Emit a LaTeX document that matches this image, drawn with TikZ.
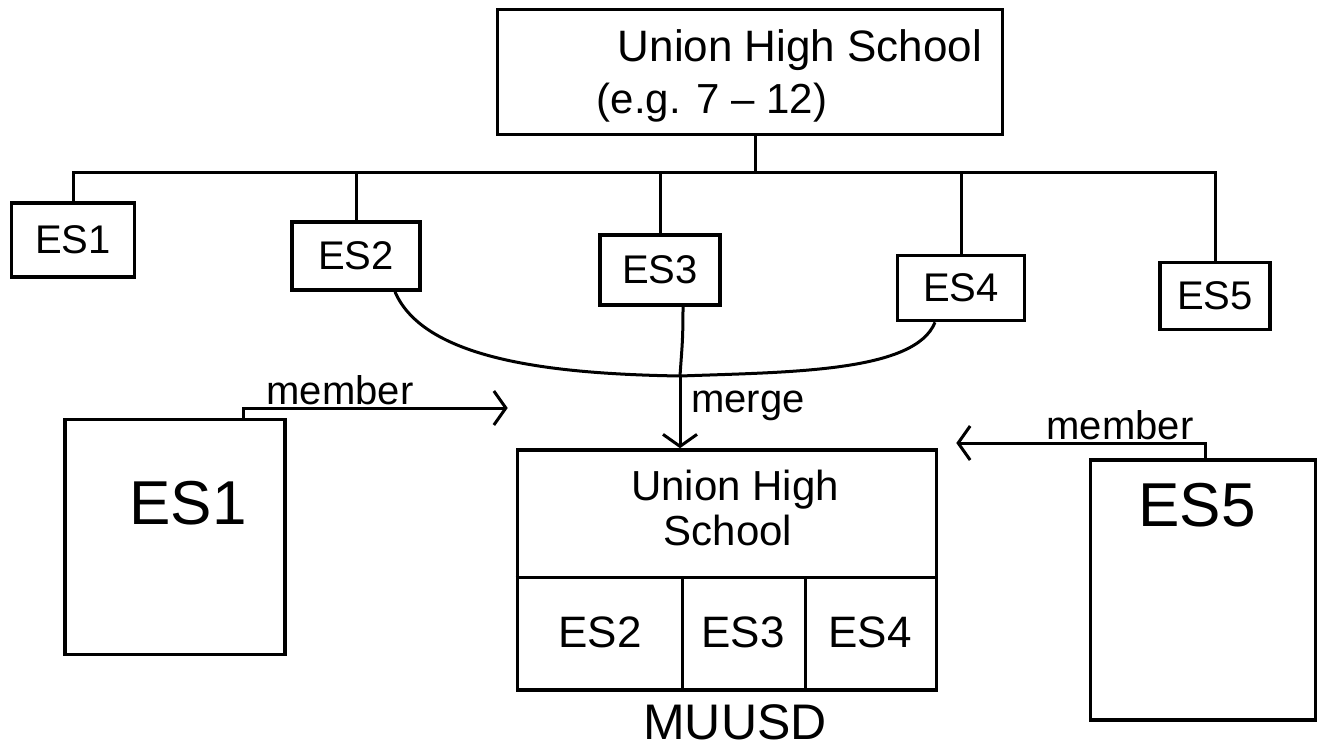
\documentclass[tikz,border=0pt]{standalone}
\usepackage{fontspec}
\setmainfont{Liberation Sans}
\usetikzlibrary{arrows.meta}
\begin{document}
\begin{tikzpicture}[x=1pt,y=-1pt,
  box/.style={draw, line width=3.6pt, inner sep=0pt},
  conn/.style={line width=3pt},
  arr/.style={conn, -{Straight Barb[length=12pt,width=34pt,line width=3pt]}},
  lbl/.style={inner sep=0pt, font=\fontsize{40}{44}\selectfont},
  big/.style={inner sep=0pt, font=\fontsize{62}{66}\selectfont},
  sbox/.style={box, font=\fontsize{40}{44}\selectfont}]
\useasboundingbox (0,0) rectangle (1317,748);

% top box
\node[box, minimum width=505pt, minimum height=125pt] (top) at (750,72) {};
\node[lbl, font=\fontsize{44}{48}\selectfont] (t1) at (800,50) {Union High School};
\node[lbl, font=\fontsize{42}{46}\selectfont] (t2) at (712,103) {(e.g. 7 -- 12)};

% small elementary schools
\node[sbox, minimum width=123pt, minimum height=74pt] (es1) at (73,240) {ES1};
\node[sbox, minimum width=128pt, minimum height=68pt] (es2) at (356,256) {ES2};
\node[sbox, minimum width=120pt, minimum height=70pt] (es3) at (660,270) {ES3};
\node[sbox, minimum width=127pt, minimum height=65pt] (es4) at (961,288) {ES4};
\node[sbox, minimum width=110pt, minimum height=67pt] (es5) at (1215,296) {ES5};

% tree
\coordinate (j) at (755,172);
\draw[conn] (top.south -| j) -- (j);
\draw[conn] (es1.north) |- (j);
\draw[conn] (es2.north) |- (j);
\draw[conn] (es3.north) |- (j);
\draw[conn] (es4.north) |- (j);
\draw[conn] (es5.north) |- (j);

% merge
\coordinate (m) at (680,376);
\draw[conn] ([xshift=39pt]es2.south) .. controls +(30,70) and (560,374) .. (m);
\draw[conn] ([xshift=-26pt]es4.south) .. controls +(-20,50) and (790,372) .. (m);
\draw[conn] ([xshift=23pt]es3.south) .. controls +(0,35) and +(2,-30) .. (m);

% merged district
\node[box, minimum width=419pt, minimum height=240pt] (muusd) at (727,570) {};
\draw[arr] (m) -- (m |- muusd.north);
\node[lbl] (mg) at (748,406) {merge};
\node[lbl, font=\fontsize{42}{46}\selectfont] (u1) at (735,490) {Union High};
\node[lbl, font=\fontsize{42}{46}\selectfont] (u2) at (728,530) {School};
\coordinate (dv) at (0,577);
\coordinate (v1) at (682,0);
\coordinate (v2) at (805,0);
\draw[conn] (muusd.west |- dv) -- (muusd.east |- dv);
\draw[conn] (v1 |- dv) -- (v1 |- muusd.south);
\draw[conn] (v2 |- dv) -- (v2 |- muusd.south);
\node[lbl, font=\fontsize{44}{48}\selectfont] (c2) at (600,632) {ES2};
\node[lbl, font=\fontsize{44}{48}\selectfont] (c3) at (743,632) {ES3};
\node[lbl, font=\fontsize{44}{48}\selectfont] (c4) at (870,632) {ES4};
\node[lbl, font=\fontsize{50}{54}\selectfont] (mu) at (735,722) {MUUSD};

% member schools
\node[box, minimum width=220pt, minimum height=235pt] (bes1) at (175,537) {};
\node[big] (bes1t) at (188,503) {ES1};
\node[box, minimum width=225pt, minimum height=260pt] (bes5) at (1203,590) {};
\node[big] (bes5t) at (1197,505) {ES5};

\coordinate (a1) at (243,408);
\draw[arr, shorten >=8pt] (bes1.north -| a1) -- (a1) -- (a1 -| muusd.west);
\node[lbl] (mb1) at (340,390) {member};
\coordinate (a5) at (1205,443);
\draw[arr, shorten >=18pt] (bes5.north -| a5) -- (a5) -- (a5 -| muusd.east);
\node[lbl] (mb5) at (1120,425) {member};
\end{tikzpicture}
\end{document}
